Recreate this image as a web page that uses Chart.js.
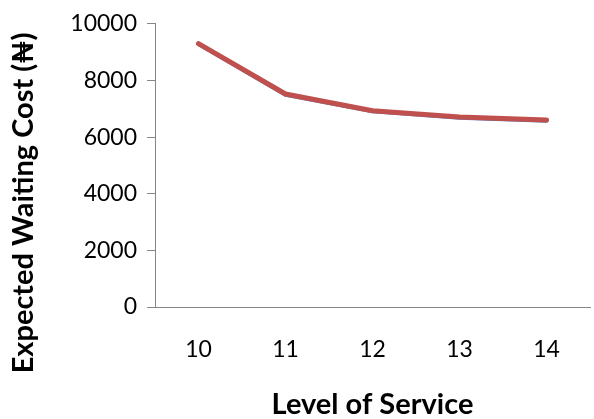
<!DOCTYPE html>
<html>
<head>
<meta charset="utf-8">
<script src="https://cdn.jsdelivr.net/npm/chart.js@4/dist/chart.umd.min.js"></script>
<style>
  html, body { margin: 0; padding: 0; background: #fff; }
  #wrap { width: 594px; height: 419px; }
</style>
</head>
<body>
<div id="wrap"><canvas id="c" width="594" height="419"></canvas></div>
<script>
// Level of service (number of servers) and expected waiting cost
const levels = ['10', '11', '12', '13', '14'];
const waitingCostA = [9290, 7490, 6910, 6680, 6580];
const waitingCostB = [9300, 7520, 6930, 6710, 6600];
const yTicks = [0, 2000, 4000, 6000, 8000, 10000];
const yTitle = 'Expected Waiting Cost (₦)';
const xTitle = 'Level of Service';

const font = 'Lato, "Liberation Sans", sans-serif';
const axisGrey = '#868686';

// Vertical axis title, centred a little below the plot's middle
const yTitlePlugin = {
  id: 'yTitle',
  afterDraw(chart) {
    const ctx = chart.ctx;
    ctx.save();
    ctx.translate(24, 203);
    ctx.rotate(-Math.PI / 2);
    ctx.font = 'bold 29px ' + font;
    ctx.fillStyle = '#000';
    ctx.textAlign = 'center';
    ctx.textBaseline = 'middle';
    ctx.fillText(yTitle, 0, 0);
    ctx.restore();
  }
};

new Chart(document.getElementById('c'), {
  type: 'line',
  data: {
    labels: levels,
    datasets: [
      {
        data: waitingCostB,
        borderColor: '#C0504D',
        borderWidth: 5,
        borderCapStyle: 'round',
        borderJoinStyle: 'round',
        pointRadius: 0,
        tension: 0
      },
      {
        data: waitingCostA,
        borderColor: '#4F81BD',
        borderWidth: 4,
        borderCapStyle: 'round',
        borderJoinStyle: 'round',
        pointRadius: 0,
        tension: 0
      }
    ]
  },
  options: {
    responsive: false,
    animation: false,
    devicePixelRatio: 1,
    layout: { padding: { top: 20, right: 4, bottom: 0, left: 50 } },
    plugins: { legend: { display: false }, tooltip: { enabled: false } },
    scales: {
      x: {
        offset: true,
        afterFit: s => { s.height = 112; },
        grid: { display: false, drawTicks: false },
        border: { display: true, color: axisGrey, width: 1 },
        ticks: { color: '#000', font: { family: font, size: 23 }, padding: 29 },
        title: {
          display: true,
          text: xTitle,
          color: '#000',
          font: { family: font, size: 29, weight: 'bold', lineHeight: 1 },
          padding: { top: 0, bottom: 0 }
        }
      },
      y: {
        min: 0,
        max: 10000,
        afterBuildTicks: s => { s.ticks = yTicks.map(v => ({ value: v })); },
        afterFit: s => { s.width = 105; },
        grid: { drawOnChartArea: false, drawTicks: true, tickLength: 8, color: axisGrey },
        border: { display: true, color: axisGrey, width: 1 },
        ticks: { color: '#000', font: { family: font, size: 23 }, padding: 10, callback: v => String(v) }
      }
    }
  },
  plugins: [yTitlePlugin]
});
</script>
</body>
</html>
